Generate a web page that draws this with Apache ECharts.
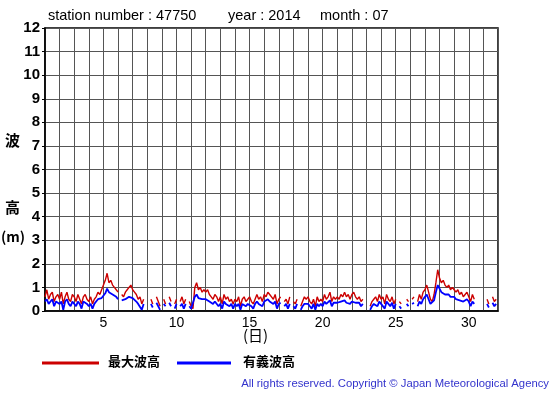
<!DOCTYPE html>
<html>
<head>
<meta charset="utf-8">
<script src="https://cdn.jsdelivr.net/npm/echarts@6/dist/echarts.min.js"></script>
<style>html,body{margin:0;padding:0;background:#fff;}#c{width:555px;height:395px;}</style>
</head>
<body>
<div id="c"></div>
<script>
// 3-hourly values, 8 per day, days 1..31 (null = missing)
var maxWave = [
0.6,0.9,0.5,0.7,0.8,0.4,0.6,0.7,
0.5,0.8,0.3,0.6,0.8,0.5,0.4,0.7,
0.6,0.4,0.7,0.5,0.3,0.6,0.7,0.5,
0.4,0.6,0.3,0.5,0.6,0.8,0.7,0.9,
1.1,1.3,1.6,1.2,1.3,1.1,1.0,0.9,
0.8,null,0.7,0.6,0.8,0.9,1.0,1.1,
0.9,0.8,0.7,0.5,0.6,0.3,0.5,null,
0.4,null,0.5,0.3,null,0.6,0.4,0.2,
null,0.5,0.3,null,0.6,0.4,null,0.3,
0.5,null,0.4,0.6,0.3,0.5,null,0.4,
0.2,0.1,1.0,1.2,0.9,1.0,0.8,0.9,
0.8,0.9,0.7,0.6,0.5,0.7,0.6,0.4,
0.6,0.3,0.7,0.5,0.6,0.4,0.5,0.3,
0.5,0.4,0.6,0.2,0.5,0.6,0.4,0.5,
0.6,0.4,0.3,0.5,0.7,0.5,0.6,0.4,
0.7,0.6,0.8,0.7,0.6,0.5,0.7,0.3,
0.5,0.6,null,0.4,0.5,0.3,0.6,null,
0.4,0.3,0.5,null,0.2,0.4,0.6,0.5,
0.6,0.4,0.3,0.5,0.2,0.6,0.4,0.5,
0.4,0.7,0.5,0.6,0.8,0.4,0.6,0.5,
0.6,0.5,0.7,0.6,0.8,0.6,0.7,0.5,
0.7,0.8,0.6,0.5,0.6,0.4,0.5,null,
0.3,null,0.2,0.4,0.5,0.6,0.4,0.7,
0.5,0.6,0.3,0.7,0.5,0.4,0.6,0.3,
0.5,null,0.4,0.3,null,null,0.5,0.4,
null,0.5,0.6,null,0.4,0.7,0.5,0.8,
0.9,1.1,0.8,0.5,0.4,0.7,1.2,1.75,
1.4,1.2,1.3,1.1,1.0,1.1,0.9,1.0,
0.9,0.8,0.9,0.7,0.8,0.6,0.7,0.8,
0.6,0.4,0.7,0.5,null,null,null,null,
null,null,0.5,0.3,null,0.6,0.4,0.5
];
var sigWave = [
0.4,0.5,0.3,0.4,0.5,0.2,0.4,0.4,
0.3,0.4,0.05,0.4,0.5,0.3,0.2,0.4,
0.4,0.2,0.4,0.3,0.1,0.4,0.4,0.3,
0.2,0.3,0.1,0.3,0.4,0.5,0.45,0.55,
0.6,0.75,0.95,0.8,0.8,0.7,0.65,0.6,
0.5,null,0.45,0.4,0.5,0.55,0.6,0.6,
0.55,0.5,0.4,0.3,0.3,0.05,0.3,null,
0.2,null,0.3,0.15,null,0.35,0.2,0.05,
null,0.3,0.2,null,0.35,0.2,null,0.1,
0.3,null,0.2,0.3,0.1,0.3,null,0.2,
0.1,0.05,0.6,0.7,0.55,0.6,0.5,0.55,
0.5,0.5,0.4,0.35,0.3,0.4,0.35,0.2,
0.3,0.1,0.4,0.3,0.3,0.2,0.3,0.1,
0.3,0.2,0.3,0.05,0.3,0.35,0.2,0.3,
0.35,0.2,0.1,0.3,0.4,0.3,0.35,0.2,
0.4,0.35,0.5,0.4,0.35,0.3,0.4,0.1,
0.3,0.35,null,0.2,0.3,0.1,0.3,null,
0.2,0.1,0.3,null,0.05,0.2,0.3,0.3,
0.3,0.2,0.1,0.3,0.05,0.3,0.2,0.3,
0.2,0.4,0.3,0.35,0.45,0.2,0.35,0.3,
0.35,0.3,0.4,0.35,0.45,0.35,0.4,0.3,
0.4,0.45,0.35,0.3,0.35,0.2,0.3,null,
0.1,null,0.05,0.2,0.3,0.35,0.2,0.4,
0.3,0.35,0.1,0.4,0.3,0.2,0.35,0.1,
0.3,null,0.2,0.1,null,null,0.3,0.2,
null,0.3,0.35,null,0.2,0.4,0.3,0.5,
0.6,0.7,0.5,0.3,0.25,0.45,0.8,1.1,
0.95,0.8,0.85,0.7,0.65,0.7,0.6,0.65,
0.6,0.5,0.55,0.45,0.5,0.4,0.45,0.5,
0.4,0.2,0.4,0.3,null,null,null,null,
null,null,0.3,0.15,null,0.35,0.2,0.3
];
var xTickLabels = [5, 10, 15, 20, 25, 30];
var yTickLabels = [0,1,2,3,4,5,6,7,8,9,10,11,12];
var titleParts = ['station number : 47750', 'year : 2014', 'month : 07'];
var legendNames = ['最大波高', '有義波高'];
var copyright = 'All rights reserved. Copyright © Japan Meteorological Agency';

function toPairs(arr){
  return arr.map(function(v,i){ return [1 + i/8, v]; });
}

var chart = echarts.init(document.getElementById('c'), null, {renderer:'canvas'});
var sans = '"Liberation Sans", Arial, sans-serif';
var cjk = '"Noto Sans CJK JP", sans-serif';
chart.setOption({
  animation: false,
  backgroundColor: '#fff',
  grid: {left: 45, right: 57, top: 28, bottom: 84, show: true, borderColor: '#000', borderWidth: 1.5},
  xAxis: {
    type: 'value', min: 1, max: 32, interval: 1,
    axisLine: {show: true, lineStyle: {color: '#000', width: 1.5}},
    axisTick: {show: false},
    splitLine: {show: true, lineStyle: {color: '#555', width: 1}},
    axisLabel: {
      color: '#000', fontSize: 14, fontFamily: sans, margin: 5,
      formatter: function(v){ return xTickLabels.indexOf(v) >= 0 ? String(v) : ''; }
    }
  },
  yAxis: {
    type: 'value', min: 0, max: 12, interval: 1,
    axisLine: {show: true, lineStyle: {color: '#000', width: 1.5}},
    axisTick: {show: true, length: 3, lineStyle: {color: '#000'}},
    splitLine: {show: true, lineStyle: {color: '#555', width: 1}},
    axisLabel: {
      color: '#000', fontSize: 15, fontWeight: 'bold', fontFamily: sans, margin: 5,
      formatter: function(v){ return yTickLabels.indexOf(v) >= 0 ? String(v) : ''; }
    }
  },
  series: [
    {name: legendNames[0], type: 'line', data: toPairs(maxWave), showSymbol: false, connectNulls: false,
     lineStyle: {color: '#cc0000', width: 1.4}, itemStyle: {color: '#cc0000'}, z: 2},
    {name: legendNames[1], type: 'line', data: toPairs(sigWave), showSymbol: false, connectNulls: false,
     lineStyle: {color: '#0000ff', width: 1.8}, itemStyle: {color: '#0000ff'}, z: 3}
  ],
  graphic: [
    {type:'text', left: 48, top: 8, style:{text: titleParts[0], font: '14.5px ' + sans, fill:'#000'}},
    {type:'text', left: 228, top: 8, style:{text: titleParts[1], font: '14.5px ' + sans, fill:'#000'}},
    {type:'text', left: 320, top: 8, style:{text: titleParts[2], font: '14.5px ' + sans, fill:'#000'}},
    {type:'text', left: 5, top: 133, style:{text: '波', font: 'bold 15px ' + cjk, fill:'#000'}},
    {type:'text', left: 5, top: 200, style:{text: '高', font: 'bold 15px ' + cjk, fill:'#000'}},
    {type:'text', left: 1, top: 230, style:{text: '(m)', font: 'bold 14px ' + cjk, fill:'#000'}},
    {type:'text', left: 243, top: 328, style:{text: '(日)', font: '15px ' + cjk, fill:'#000'}},
    {type:'line', shape:{x1: 42, y1: 363, x2: 99, y2: 363}, style:{stroke:'#cc0000', lineWidth: 3}},
    {type:'text', left: 108, top: 355, style:{text: legendNames[0], font: 'bold 13px ' + cjk, fill:'#000'}},
    {type:'line', shape:{x1: 177, y1: 363, x2: 231, y2: 363}, style:{stroke:'#0000ff', lineWidth: 3}},
    {type:'text', left: 243, top: 355, style:{text: legendNames[1], font: 'bold 13px ' + cjk, fill:'#000'}},
    {type:'text', right: 6, top: 378, style:{text: copyright, font: '11.3px ' + sans, fill:'#3333cc'}}
  ]
});
</script>
</body>
</html>
